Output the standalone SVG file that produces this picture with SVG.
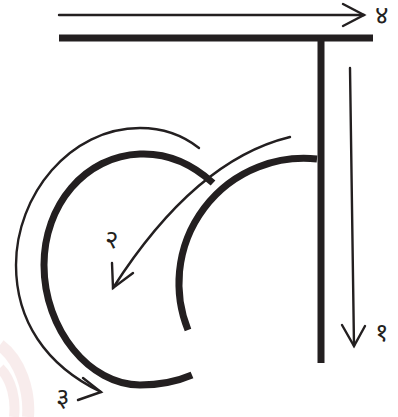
<svg xmlns="http://www.w3.org/2000/svg" width="398" height="417" viewBox="0 0 398 417">
<style>
.thick{fill:none;stroke:#231f20;stroke-width:7}
.thin{fill:none;stroke:#231f20;stroke-width:2.4;stroke-linecap:round;stroke-linejoin:miter}
.lbl{font-family:"Noto Sans Devanagari","Noto Sans","Lohit Devanagari","FreeSans",sans-serif;font-size:26px;fill:#231f20}
</style>
<rect width="398" height="417" fill="#fff"/>
<g id="watermark" opacity="0.25" fill="none" stroke="#e6b8b8">
<path d="M0,345 C20,360 30,390 28,417" stroke-width="12"/>
<path d="M0,368 C12,380 16,400 14,417" stroke-width="10"/>
</g>
<g id="letter">
<line id="bar" class="thick" x1="59" y1="38" x2="373" y2="38" stroke-width="8"/>
<line id="stem" class="thick" x1="321" y1="38" x2="321" y2="363"/>
<path id="inner-arc" class="thick" d="M317,159 A125,125 0 0 0 188,330"/>
<path id="outer-arc" class="thick" d="M213,183 C190,162 165,153 140,154 C85,156 44,205 44,265 C44,330 90,385 140,385 C160,385 178,381 192,375"/>
</g>
<g id="connectors">
<g id="arrow4">
<line class="thin" x1="59" y1="15" x2="364" y2="15"/>
<polyline class="thin" points="343,4 364,15 343,26"/>
</g>
<g id="arrow1">
<line class="thin" x1="350" y1="68" x2="354" y2="346"/>
<polyline class="thin" points="342,325 354,346 365,326"/>
</g>
<g id="arrow2">
<path class="thin" d="M290,137 Q195,160 113,288"/>
<polyline class="thin" points="112,263 113,288 133,273"/>
</g>
<g id="arrow3">
<path class="thin" d="M199,148 C180,133 160,128 140,128 C70,128 16,195 16,265 C16,320 45,365 101,392"/>
<polyline class="thin" points="83,378 101,392 78,400"/>
</g>
</g>
<g id="labels">
<text class="lbl" x="375" y="24">४</text>
<text class="lbl" x="375" y="341">१</text>
<text class="lbl" x="105" y="248">२</text>
<text class="lbl" x="56" y="406">३</text>
</g>
</svg>
